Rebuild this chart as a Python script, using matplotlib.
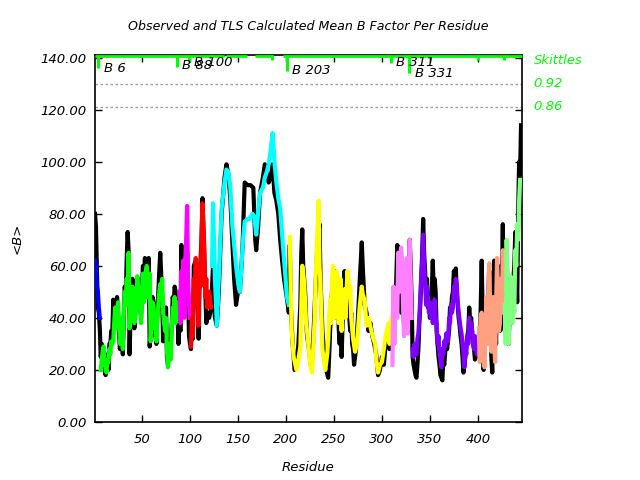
import matplotlib
matplotlib.use("Agg")
import matplotlib.pyplot as plt
import numpy as np

# ---- data: observed mean B (black) ----
obs_res_a = [1, 2, 3, 4, 5, 6] + list(range(7, 89))
obs_val_a = [80, 75, 58, 44, 42, 36,
             25, 30, 22, 28, 24, 18, 22, 26, 20, 30, 30, 35, 33, 47, 40, 45, 42, 48, 42, 34, 28, 36, 32, 26,
             40, 52, 48, 62, 73, 66, 26, 40, 44, 55, 50, 36, 42, 48, 46, 55, 50, 45, 40, 52, 60, 50, 63, 56,
             62, 50, 63, 29, 35, 40, 48, 46, 34, 33, 30, 42, 50, 58, 65, 56, 48, 31, 40, 38, 44, 25, 22, 28,
             32, 30, 38, 48, 45, 52, 50, 38, 41, 30]
obs_res_b = [89, 90, 91, 92, 93, 95, 97, 99, 100, 101, 102, 103, 104, 106, 108, 109, 110, 112, 113, 114, 116, 117, 118, 120, 122,
             124, 125, 126, 128, 130, 133, 136, 138, 140, 142, 144, 146, 148, 150, 152, 154, 155, 157, 160, 163, 166, 168, 169,
             171, 173, 176, 178, 180, 182, 184, 186, 188, 190, 192, 194, 196, 198, 200, 202, 203]
obs_val_b = [45, 35, 68, 42, 55, 48, 65, 33, 30, 28, 38, 32, 60, 62, 45, 32, 55, 70, 86, 74, 50, 38, 42, 40, 44,
             60, 45, 40, 37, 50, 80, 94, 99, 95, 86, 70, 55, 45, 50, 50, 62, 70, 92, 91, 91, 90, 70, 66,
             75, 88, 94, 99, 96, 92, 94, 99, 88, 85, 80, 70, 62, 55, 50, 45, 42]
obs_res_c = [204, 205, 207, 209, 211, 213, 215, 216, 217, 218, 220, 221, 222, 224, 226, 228, 230, 232, 233, 235, 236, 238, 240, 242] + \
            list(range(244, 272)) + \
            [273, 275, 277, 279, 280, 282, 284, 286, 288, 290, 292, 294, 296, 298, 300, 302, 304, 306, 308, 310]
obs_val_c = [68, 45, 30, 20, 22, 30, 45, 65, 74, 60, 50, 40, 33, 28, 22, 28, 45, 62, 70, 76, 55, 35, 25, 20,
             17, 25, 35, 42, 50, 55, 45, 58, 40, 52, 55, 36, 30, 44, 25, 38, 45, 58, 44, 48, 55, 50, 40, 35, 42, 30, 28, 22,
             28, 40, 55, 69, 60, 45, 42, 35, 38, 33, 30, 26, 18, 20, 25, 22, 30, 35, 28, 30]
obs_res_d = list(range(311, 446))
obs_val_d = [30, 50, 45, 44, 55, 68, 67, 55, 60, 42, 55, 48, 38, 44, 52, 60, 40, 45, 70, 60, 47,
             25, 22, 20, 18, 17, 22, 28, 38, 45, 55, 65, 78, 65, 58, 50, 55, 44, 48, 40, 45,
             50, 62, 50, 55, 50, 35, 30, 25, 22, 18, 17, 16, 24, 22, 27, 30, 28, 32, 35, 44,
             42, 48, 50, 58, 55, 59, 50, 45, 40, 37, 33, 30, 25, 19, 22, 25, 30, 33, 35, 44,
             38, 40, 35, 30, 28, 24, 28, 25, 25,
             30, 25, 45, 62, 40, 20, 28, 33, 45, 38, 52, 58, 38, 25, 19, 35, 62, 40, 30, 55, 45, 48, 35, 60, 50, 76, 40,
             35, 60, 68, 45, 30, 40, 50, 42, 45, 55, 60, 73, 58, 46, 80, 100, 95, 114]

# ---- data: TLS calculated mean B, one array pair per TLS group ----
tls_res_1 = [1, 2, 3, 4, 5, 6]
tls_val_1 = [62, 60, 52, 50, 44, 40]
tls_res_2 = list(range(7, 89))
tls_val_2 = [20, 24, 27, 29, 22, 21, 19, 24, 23, 28, 26, 31, 30, 31, 38, 44, 36, 40, 46, 38, 30, 40, 36, 28,
             42, 50, 45, 55, 48, 65, 36, 46, 44, 52, 48, 38, 40, 44, 56, 52, 44, 46, 38, 50, 57, 46, 50, 58,
             60, 48, 52, 57, 31, 38, 46, 44, 36, 42, 31, 40, 45, 50, 53, 48, 55, 42, 38, 35, 40, 28, 21, 26,
             30, 24, 36, 44, 42, 48, 38, 43, 46, 40]
tls_res_3 = list(range(89, 101))
tls_val_3 = [50, 38, 58, 45, 62, 40, 60, 70, 83, 55, 45, 40]
tls_res_4 = list(range(101, 119)) + [120, 122]
tls_val_4 = [29, 40, 33, 55, 48, 63, 45, 58, 37, 60, 52, 70, 84, 76, 66, 48, 55, 44, 50, 44]
tls_res_5 = [123, 124, 126, 128, 130, 133, 136, 138, 140, 142, 144, 146, 148, 150, 152, 154, 155, 157, 160, 162,
             165, 167, 169, 171, 173, 176, 178, 180, 182, 184, 186, 188, 190, 192, 194, 196, 197, 199, 201, 203]
tls_val_5 = [60, 84, 55, 37, 55, 82, 92, 97, 96, 90, 76, 68, 60, 54, 50, 62, 69, 77, 78, 78,
             80, 79, 72, 80, 88, 90, 94, 96, 99, 104, 111, 100, 92, 86, 82, 72, 67, 58, 48, 45]
tls_res_6 = [204, 205, 206, 208, 211, 213, 215, 217, 219, 221, 222, 225, 227, 228, 230, 231, 233, 234, 235, 236,
             238, 241, 243] + list(range(244, 271)) + \
            [272, 274, 275, 277, 279, 280, 282, 284, 286, 289, 291, 293, 294, 296, 298, 300, 302, 303, 305, 307, 308, 310]
tls_val_6 = [71, 51, 35, 25, 20, 24, 29, 60, 54, 38, 35, 23, 19, 25, 40, 57, 75, 85, 60, 53,
             28, 20, 26,
             31, 40, 47, 38, 55, 60, 52, 40, 46, 58, 52, 38, 45, 55, 35, 48, 44, 51, 40, 48, 58, 55, 48, 52, 40, 36, 32,
             27, 30, 35, 45, 52, 49, 47, 37, 40, 35, 32, 30, 24, 19, 22, 23, 28, 31, 35, 38, 30, 40]
tls_res_7 = list(range(311, 332))
tls_val_7 = [22, 52, 30, 45, 47, 40, 65, 50, 62, 67, 62, 45, 33, 40, 60, 63, 34, 50, 70, 55, 40]
tls_res_8 = list(range(332, 401))
tls_val_8 = [28, 25, 30, 27, 26, 32, 34, 40, 48, 56, 62, 72, 60, 53, 45, 52, 48, 42, 46, 40,
             44, 38, 44, 47, 40, 38, 30, 33, 26, 24, 21, 28, 26, 31, 29, 34, 32, 31, 40, 38,
             45, 42, 44, 52, 50, 55, 53, 46, 42, 39, 36, 34, 30, 26, 21, 28, 26, 33, 30, 40,
             36, 38, 35, 30, 28, 33, 30, 26, 27]
tls_res_9 = list(range(401, 428))
tls_val_9 = [36, 23, 40, 42, 30, 38, 21, 35, 48, 30, 55, 61, 40, 27, 40, 48, 30, 23, 45, 63, 50, 35, 38, 55, 42, 66, 51]
tls_res_10 = list(range(428, 445))
tls_val_10 = [45, 30, 70, 50, 30, 45, 56, 46, 38, 50, 42, 66, 60, 76, 70, 85, 93]

tls_colors = ["#0000ff", "#00ff00", "#ff00ff", "#ff0000", "#00ffff",
              "#ffff00", "#ff80ff", "#8000ff", "#ffa080", "#80ff80"]

skittle_res = [4, 86, 99, 122, 134, 156, 185, 201, 309, 328, 400, 427]
skittle_bottom = [136, 136.5, 138.4, 139.8, 140.2, 140.6, 139, 134.8, 137.8, 134, 139, 139]
top_line_start = [1, 138, 168, 197]
top_line_end = [134, 159, 186, 446]
label_text = ["B 6", "B 88", "B 100", "B 203", "B 311", "B 331"]
label_res = [10.4, 91.6, 104, 206, 314.5, 334]
label_y = [136, 136.8, 138.3, 135.2, 138.3, 134]
thresh_vals = [130, 121.2]
thresh_text = ["0.92", "0.86"]

# ---- plot ----
plt.rcParams['font.family'] = ['DejaVu Sans']
fig = plt.figure(figsize=(6.4, 4.8), dpi=100)
ax = fig.add_axes([95/640, 1-422/480, 427/640, 367/480])
ax.set_xlim(1, 446)
ax.set_ylim(0, 141)

for t in thresh_vals:
    ax.axhline(t, color="#999999", lw=0.9, ls=(0, (2, 2)), zorder=1)

obs_res = obs_res_a + obs_res_b + obs_res_c + obs_res_d
obs_val = obs_val_a + obs_val_b + obs_val_c + obs_val_d
ax.plot(obs_res, obs_val, color="black", lw=3.0, zorder=2)

tls_sets = [(tls_res_1, tls_val_1), (tls_res_2, tls_val_2), (tls_res_3, tls_val_3), (tls_res_4, tls_val_4),
            (tls_res_5, tls_val_5), (tls_res_6, tls_val_6), (tls_res_7, tls_val_7), (tls_res_8, tls_val_8),
            (tls_res_9, tls_val_9), (tls_res_10, tls_val_10)]
for (rr, vv), c in zip(tls_sets, tls_colors):
    ax.plot(rr, vv, color=c, lw=3.0, zorder=3)

green = "#00ff00"
for s, e in zip(top_line_start, top_line_end):
    ax.plot([s, e], [140.7, 140.7], color=green, lw=2.0, zorder=4, clip_on=False, solid_capstyle="butt")
ax.vlines(skittle_res, skittle_bottom, 141, color=green, lw=2.2, zorder=4)
for t, xr, yv in zip(label_text, label_res, label_y):
    ax.text(xr, yv, t, fontsize=9.5, style="italic", va="center", ha="left", zorder=5)

ax.text(458, 138.7, "Skittles", fontsize=9.5, style="italic", color=green, va="center", ha="left", clip_on=False)
for t, yv in zip(thresh_text, thresh_vals):
    ax.text(458, yv, t, fontsize=9.5, style="italic", color=green, va="center", ha="left", clip_on=False)

ax.set_xticks([50, 100, 150, 200, 250, 300, 350, 400])
ax.set_yticks(np.arange(0, 141, 20))
ax.set_yticklabels([f"{y:.2f}" for y in np.arange(0, 141, 20)])
ax.tick_params(direction="in", top=True, right=True, length=5, width=1, labelsize=9.5)
ax.tick_params(axis="x", pad=8)
ax.tick_params(axis="y", pad=6)
for lab in ax.get_xticklabels() + ax.get_yticklabels():
    lab.set_style("italic")
for sp in ax.spines.values():
    sp.set_linewidth(1.2)

ax.set_title("Observed and TLS Calculated Mean B Factor Per Residue", fontsize=9.1, style="italic", pad=18)
ax.set_xlabel("Residue", fontsize=9.5, style="italic", labelpad=11)
ax.set_ylabel("<B>", fontsize=9.5, style="italic", labelpad=12)

fig.savefig("out.png", dpi=100)
